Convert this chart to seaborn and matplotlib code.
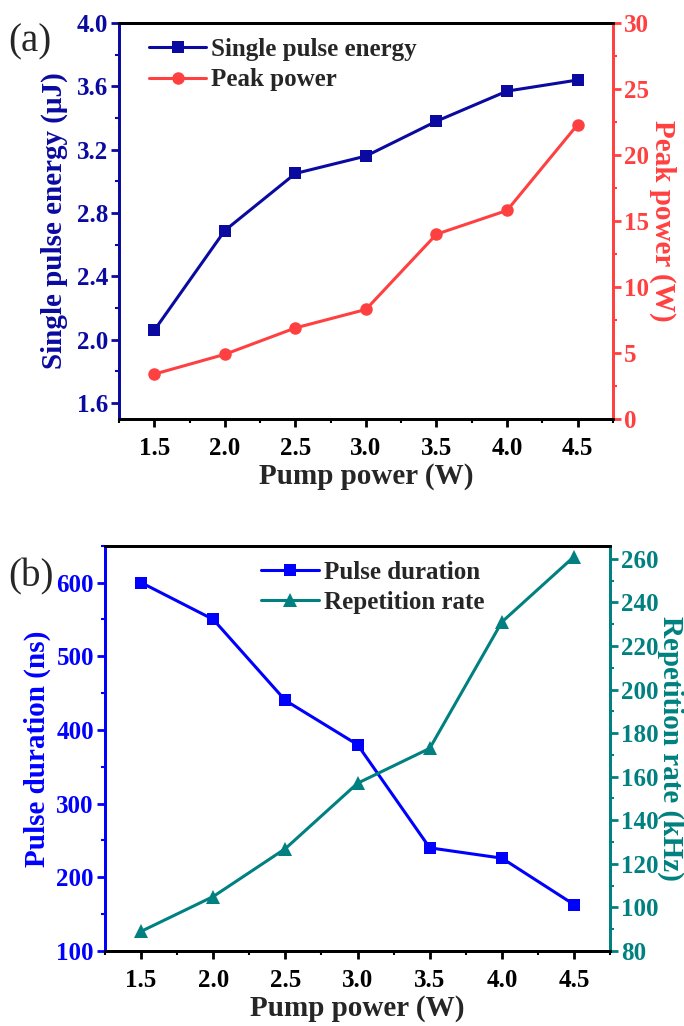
import numpy as np
import matplotlib
matplotlib.use("Agg")
import matplotlib.pyplot as plt
import seaborn as sns
from matplotlib.ticker import MultipleLocator, AutoMinorLocator

# data
pump_power = [1.5, 2.0, 2.5, 3.0, 3.5, 4.0, 4.5]
pulse_energy = [2.06, 2.69, 3.05, 3.16, 3.38, 3.57, 3.64]       # uJ
peak_power = [3.4, 4.9, 6.9, 8.3, 14.0, 15.8, 22.3]             # W
pulse_duration = [600, 550, 440, 380, 240, 226, 163]            # ns
rep_rate = [89, 105, 127, 157, 173, 231, 261]                   # kHz

sns.set_style("ticks")
plt.rcParams["font.family"] = ["Liberation Serif", "DejaVu Serif"]
plt.rcParams["font.weight"] = "bold"
plt.rcParams["axes.labelweight"] = "bold"
plt.rcParams["mathtext.default"] = "regular"

TICK_FS = 18
LABEL_FS = 21
LEGEND_FS = 18


def style_axes(ax, ax2, lcolor, rcolor):
    for a in (ax, ax2):
        for s in a.spines.values():
            s.set_linewidth(2)
            s.set_color("black")
            s.set_visible(True)
    ax.spines["left"].set_color(lcolor)
    ax2.spines["left"].set_color(lcolor)
    ax.spines["right"].set_color(rcolor)
    ax2.spines["right"].set_color(rcolor)
    ax.tick_params(axis="x", which="both", direction="out", colors="black",
                   labelsize=TICK_FS, width=2, top=False)
    ax.tick_params(axis="x", which="major", length=6, pad=7)
    ax.tick_params(axis="x", which="minor", length=3, width=1.5)
    ax.tick_params(axis="y", which="both", direction="out", colors=lcolor,
                   labelsize=TICK_FS, width=2)
    ax.tick_params(axis="y", which="major", length=6, pad=2)
    ax.tick_params(axis="y", which="minor", length=3, width=1.5)
    ax2.tick_params(axis="y", which="both", direction="out", colors=rcolor,
                    labelsize=TICK_FS, width=2)
    ax2.tick_params(axis="y", which="major", length=6, pad=2)
    ax2.tick_params(axis="y", which="minor", length=3, width=1.5)
    ax.xaxis.set_minor_locator(AutoMinorLocator(2))
    ax.yaxis.set_minor_locator(AutoMinorLocator(2))
    ax2.yaxis.set_minor_locator(AutoMinorLocator(2))
    for lab in ax.get_xticklabels() + ax.get_yticklabels() + ax2.get_yticklabels():
        lab.set_fontweight("bold")


fig = plt.figure(figsize=(6.84, 10.26), dpi=100)

# ---------------- panel (a) ----------------
c_energy = "#0A0AA0"
c_peak = "#FF4040"
ax = fig.add_axes([0.174, 0.5916, 0.722, 0.386])
ax2 = ax.twinx()
sns.lineplot(x=pump_power, y=pulse_energy, ax=ax, color=c_energy, marker="s",
             markersize=8, markeredgewidth=0, linewidth=2.2, label="Single pulse energy")
sns.lineplot(x=pump_power, y=peak_power, ax=ax2, color=c_peak, marker="o",
             markersize=9, markeredgewidth=0, linewidth=2.2, label="Peak power")
ax.set_xlim(1.25, 4.75)
ax.set_ylim(1.5, 4.0)
ax2.set_ylim(0, 30)
ax2.yaxis.set_major_locator(MultipleLocator(5))
ax.set_xticks(pump_power)
ax.set_xticklabels([f"{v:.1f}" for v in pump_power])
ax.set_yticks([1.6, 2.0, 2.4, 2.8, 3.2, 3.6, 4.0])
ax.set_yticklabels(["1.6", "2.0", "2.4", "2.8", "3.2", "3.6", "4.0"])
ax.set_xlabel("Pump power (W)", fontsize=LABEL_FS, fontweight="bold", labelpad=2)
ax.set_ylabel("Single pulse energy (μJ)", fontsize=LABEL_FS, fontweight="bold",
              color=c_energy, labelpad=6)
ax2.set_ylabel("Peak power (W)", fontsize=LABEL_FS, fontweight="bold",
               color=c_peak, rotation=270, labelpad=20)
style_axes(ax, ax2, c_energy, c_peak)
h1, l1 = ax.get_legend_handles_labels()
h2, l2 = ax2.get_legend_handles_labels()
ax2.get_legend().remove()
ax.legend(h1 + h2, l1 + l2, loc="upper left", bbox_to_anchor=(0.03, 1.0),
          frameon=False, prop={"weight": "bold", "size": LEGEND_FS},
          handlelength=2.3, handletextpad=0.2, borderaxespad=0.2, labelspacing=0.3)
fig.text(0.012, 0.95, "(a)", fontsize=28, fontweight="normal")

# ---------------- panel (b) ----------------
c_dur = "#0000FF"
c_rep = "#008080"
bx = fig.add_axes([0.1535, 0.0731, 0.7385, 0.395])
bx2 = bx.twinx()
sns.lineplot(x=pump_power, y=pulse_duration, ax=bx, color=c_dur, marker="s",
             markersize=8, markeredgewidth=0, linewidth=2.2, label="Pulse duration")
sns.lineplot(x=pump_power, y=rep_rate, ax=bx2, color=c_rep, marker="^",
             markersize=10, markeredgewidth=0, linewidth=2.2, label="Repetition rate")
bx.set_xlim(1.25, 4.75)
bx.set_ylim(100, 650)
bx2.set_ylim(80, 266)
bx.set_xticks(pump_power)
bx.set_xticklabels([f"{v:.1f}" for v in pump_power])
bx.yaxis.set_major_locator(MultipleLocator(100))
bx2.yaxis.set_major_locator(MultipleLocator(20))
bx.set_xlabel("Pump power (W)", fontsize=LABEL_FS, fontweight="bold", labelpad=2)
bx.set_ylabel("Pulse duration (ns)", fontsize=LABEL_FS, fontweight="bold",
              color=c_dur, labelpad=4)
bx2.set_ylabel("Repetition rate (kHz)", fontsize=LABEL_FS, fontweight="bold",
               color=c_rep, rotation=270, labelpad=18)
style_axes(bx, bx2, c_dur, c_rep)
h1, l1 = bx.get_legend_handles_labels()
h2, l2 = bx2.get_legend_handles_labels()
bx2.get_legend().remove()
bx.legend(h1 + h2, l1 + l2, loc="upper left", bbox_to_anchor=(0.28, 1.0),
          frameon=False, prop={"weight": "bold", "size": LEGEND_FS},
          handlelength=2.3, handletextpad=0.2, borderaxespad=0.2, labelspacing=0.3)
fig.text(0.012, 0.428, "(b)", fontsize=28, fontweight="normal")

fig.savefig("out.png", dpi=100)
plt.close(fig)
